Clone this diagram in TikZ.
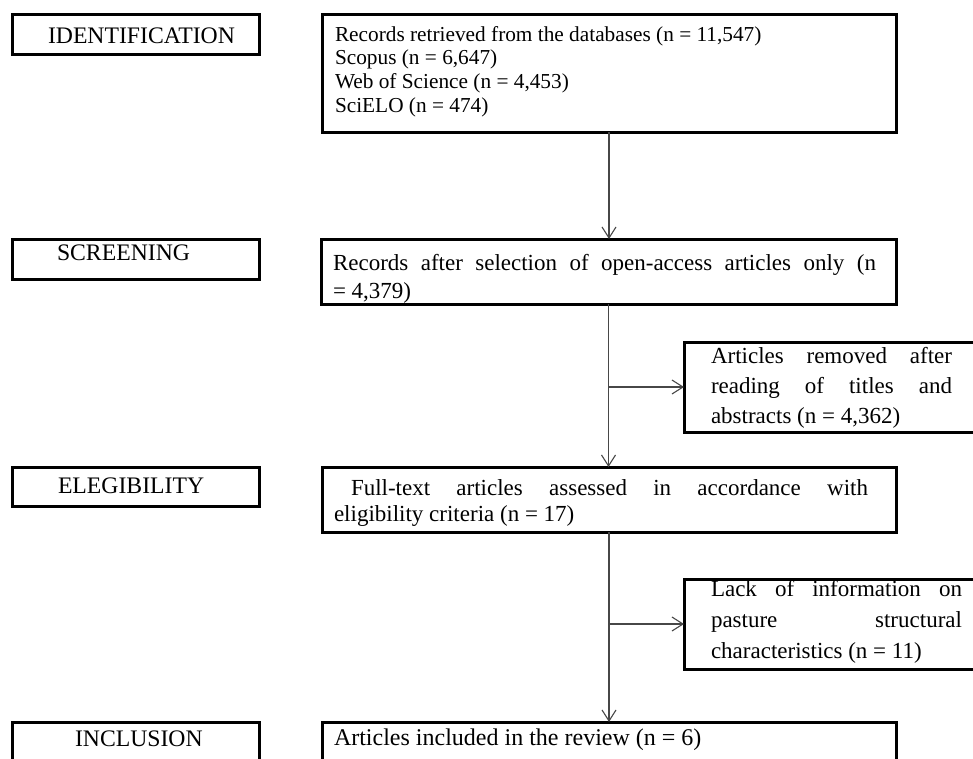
\documentclass[tikz,border=0pt]{standalone}
\usepackage{fontspec}
\setmainfont{Liberation Serif}
\usetikzlibrary{arrows.meta}
\newcommand\fLab{\fontsize{23.7}{28}\selectfont}
\newcommand\fRec{\fontsize{21.3}{23.7}\selectfont}
\newcommand\fBody{\fontsize{23}{30}\selectfont}
\tikzset{
  frame/.style={draw=black, line width=3pt, inner sep=0pt, outer sep=0pt, anchor=north west},
  txt/.style={inner sep=0pt, outer sep=0pt, anchor=base west, text=black},
  conn/.style={draw=black!72, line width=1.1pt},
  arr/.style={conn, -{Straight Barb[length=11pt,width=14pt,line width=1.1pt]}}
}
\begin{document}
\begin{tikzpicture}[x=1pt,y=-1pt]
\useasboundingbox (0,0) rectangle (973,758);
\clip (0,0) rectangle (973,758);
\fill[white] (0,0) rectangle (973,758);
% stage labels
\node[frame, minimum width=247pt, minimum height=40pt] (idb) at (12,14) {};
\node[frame, minimum width=247pt, minimum height=40pt] (scb) at (12,239) {};
\node[frame, minimum width=247pt, minimum height=39pt] (elb) at (12,467) {};
\node[frame, minimum width=247pt, minimum height=60pt] (inb) at (12,722) {};
\node[txt, font=\fLab] (idt) at (48,43) {IDENTIFICATION};
\node[txt, font=\fLab] (sct) at (57,260) {SCREENING};
\node[txt, font=\fLab] (elt) at (58,493) {ELEGIBILITY};
\node[txt, font=\fLab] (int) at (75,746) {INCLUSION};
% main column
\node[frame, minimum width=574pt, minimum height=118pt] (rec) at (322,14) {};
\node[frame, minimum width=575pt, minimum height=65pt] (aft) at (321,239) {};
\node[frame, minimum width=574pt, minimum height=65pt] (ful) at (322,467) {};
\node[frame, minimum width=574pt, minimum height=70pt] (inc) at (322,722) {};
% side boxes
\node[frame, minimum width=310pt, minimum height=90pt] (rem) at (684,342) {};
\node[frame, minimum width=310pt, minimum height=90pt] (lac) at (684,579) {};
% texts
\node[txt] (rect) at (335,41) {\parbox[t]{540pt}{\fRec\raggedright
  Records retrieved from the databases (n = 11,547)\\
  Scopus (n = 6,647)\\
  Web of Science (n = 4,453)\\
  SciELO (n = 474)}};
\node[txt] (aftt) at (333,270) {\parbox[t]{560pt}{\fontsize{23}{28}\selectfont\raggedright
  \makebox[543pt][s]{Records after selection of open-access articles only (n}\\
  = 4,379)}};
\node[txt] (remt) at (711,363) {\parbox[t]{260pt}{\fBody\raggedright
  \makebox[241pt][s]{Articles removed after}\\
  \makebox[241pt][s]{reading of titles and}\\
  abstracts (n = 4,362)}};
\node[txt] (fult) at (334,495) {\parbox[t]{560pt}{\fontsize{23}{26}\selectfont\raggedright
  \hspace*{17pt}\makebox[517pt][s]{Full-text articles assessed in accordance with}\\
  eligibility criteria (n = 17)}};
\node[txt] (lact) at (711,596) {\parbox[t]{260pt}{\fontsize{23}{31}\selectfont\raggedright
  \makebox[251pt][s]{Lack of information on}\\
  \makebox[251pt][s]{pasture structural}\\
  characteristics (n = 11)}};
\node[txt, font=\fontsize{24}{28}\selectfont] (inct) at (334,745) {Articles included in the review (n = 6)};
% connectors
\draw[arr] (rec.south) -- (rec.south |- aft.north);
\draw[arr] (aft.south) -- (aft.south |- ful.north);
\draw[arr] (aft.south |- rem.west) -- (rem.west);
\draw[arr] (ful.south) -- (ful.south |- inc.north);
\draw[arr] (ful.south |- lac.west) -- (lac.west);
\end{tikzpicture}
\end{document}
